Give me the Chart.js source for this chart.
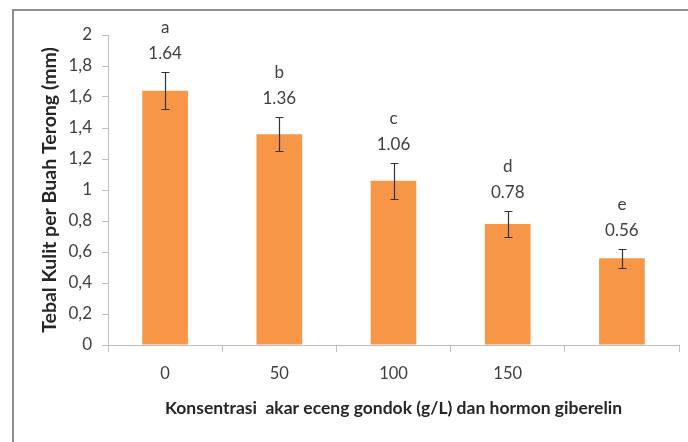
<!DOCTYPE html>
<html>
<head>
<meta charset="utf-8">
<script src="https://cdn.jsdelivr.net/npm/chart.js@4.4.1/dist/chart.umd.min.js"></script>
<style>
html, body { margin: 0; padding: 0; background: #fff; }
#wrap { position: relative; width: 688px; height: 442px; overflow: hidden; }
#frame { position: absolute; left: 12px; top: 9px; width: 700px; height: 460px;
         border-left: 2px solid #8f8f8f; border-top: 2px solid #8f8f8f; }
canvas { position: absolute; left: 0; top: 0; }
</style>
</head>
<body>
<div id="wrap">
  <div id="frame"></div>
  <canvas id="myChart" width="688" height="442"></canvas>
</div>
<script>
// concentration groups (the last one has no tick label in the original)
const categories = ['0', '50', '100', '150', ''];
const thickness = [1.64, 1.36, 1.06, 0.78, 0.56];
const errors = [0.12, 0.11, 0.115, 0.085, 0.06];
const letters = ['a', 'b', 'c', 'd', 'e'];

const xTitle = 'Konsentrasi  akar eceng gondok (g/L) dan hormon giberelin';
const yTitle = 'Tebal Kulit per Buah Terong (mm)';

const textColor = '#404040';
const titleColor = '#262626';
const axisColor = '#bfbfbf';

// error bars + value / letter labels above each bar
const barExtras = {
    id: 'barExtras',
    afterDatasetsDraw(chart) {
        const ctx = chart.ctx;
        const y = chart.scales.y;
        const meta = chart.getDatasetMeta(0);
        ctx.save();
        ctx.strokeStyle = '#333';
        ctx.lineWidth = 1.2;
        ctx.fillStyle = textColor;
        ctx.font = '17px Lato';
        ctx.textAlign = 'center';
        ctx.textBaseline = 'middle';
        meta.data.forEach((bar, i) => {
            const top = Math.round(y.getPixelForValue(thickness[i] + errors[i])) + 0.5;
            const bottom = Math.round(y.getPixelForValue(thickness[i] - errors[i])) + 0.5;
            const x = Math.round(bar.x) + 0.5;
            ctx.beginPath();
            ctx.moveTo(x, top); ctx.lineTo(x, bottom);
            ctx.moveTo(x - 4, top); ctx.lineTo(x + 4, top);
            ctx.moveTo(x - 4, bottom); ctx.lineTo(x + 4, bottom);
            ctx.stroke();
            ctx.fillText(thickness[i].toFixed(2), bar.x, top - 19);
            ctx.fillText(letters[i], bar.x, top - 45);
        });
        ctx.restore();
    }
};

// axis titles, centred on the plot area
const axisTitles = {
    id: 'axisTitles',
    afterDraw(chart) {
        const ctx = chart.ctx;
        const area = chart.chartArea;
        ctx.save();
        ctx.fillStyle = titleColor;
        ctx.textAlign = 'center';
        ctx.textBaseline = 'middle';
        ctx.font = 'bold 17.5px Lato';
        ctx.fillText(xTitle, (area.left + area.right) / 2, area.bottom + 63);
        ctx.translate(50, (area.top + area.bottom) / 2);
        ctx.rotate(-Math.PI / 2);
        ctx.font = 'bold 19.5px Lato';
        ctx.fillText(yTitle, 0, 0);
        ctx.restore();
    }
};

const chartdata = {
    labels: categories,
    datasets: [{
        data: thickness,
        backgroundColor: '#f79646',
        barPercentage: 0.4,
        categoryPercentage: 1.0
    }]
};

const config = {
    type: 'bar',
    data: chartdata,
    plugins: [barExtras, axisTitles],
    options: {
        responsive: false,
        animation: false,
        layout: { padding: { top: 35, right: 9, left: 0, bottom: 0 } },
        plugins: { legend: { display: false }, tooltip: { enabled: false } },
        scales: {
            x: {
                afterFit(scale) { scale.height = 97; },
                border: { color: axisColor },
                grid: { drawOnChartArea: false, tickLength: 7, color: axisColor },
                ticks: { color: textColor, font: { family: 'Lato', size: 16.5 }, padding: 12 }
            },
            y: {
                min: 0,
                max: 2,
                afterFit(scale) { scale.width = 108; },
                border: { color: axisColor },
                grid: { drawOnChartArea: false, tickLength: 6, color: axisColor },
                ticks: {
                    stepSize: 0.2,
                    color: textColor,
                    font: { family: 'Lato', size: 17 },
                    padding: 10,
                    callback: (v) => String(Math.round(v * 10) / 10).replace('.', ',')
                }
            }
        }
    }
};

const myChart = new Chart(document.getElementById('myChart'), config);
</script>
</body>
</html>
